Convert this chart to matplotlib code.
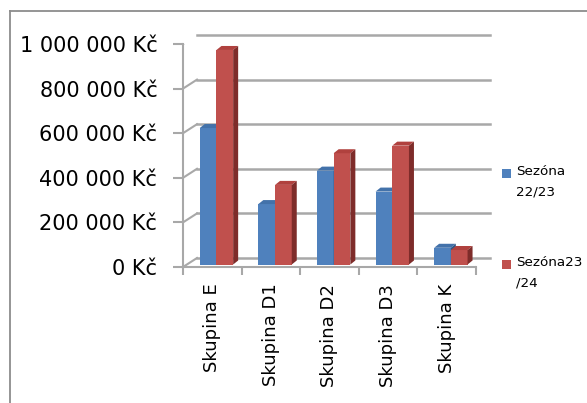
import matplotlib
matplotlib.use('Agg')
import matplotlib.pyplot as plt
from matplotlib.patches import Polygon, Rectangle
from matplotlib.lines import Line2D
from matplotlib.transforms import offset_copy, IdentityTransform
import numpy as np

categories = ['Skupina E', 'Skupina D1', 'Skupina D2', 'Skupina D3', 'Skupina K']
season_2223 = [612000, 271000, 421000, 327000, 75000]
season_2324 = [962000, 357000, 499000, 533000, 65000]
series_labels = ['Sezóna\n22/23', 'Sezóna23\n/24']
yticks = [0, 200000, 400000, 600000, 800000, 1000000]
ytick_labels = ['0 Kč', '200 000 Kč', '400 000 Kč', '600 000 Kč', '800 000 Kč', '1 000 000 Kč']

BLUE, BLUE_TOP, BLUE_SIDE = '#4F81BD', '#4372AA', '#2F5685'
RED, RED_TOP, RED_SIDE = '#C0504D', '#B0413E', '#7E2C2A'
GRID = '#A8A8A8'

W, H = 587, 403
fig = plt.figure(figsize=(W / 100, H / 100), dpi=100)
ax = fig.add_axes([183 / W, (H - 267) / H, (476 - 183) / W, (267 - 44) / H])
ax.set_xlim(-0.5, 4.5)
ax.set_ylim(0, 1e6)
ax.patch.set_visible(False)
for s in ['top', 'right']:
    ax.spines[s].set_visible(False)
for s in ['left', 'bottom']:
    ax.spines[s].set_color(GRID)
    ax.spines[s].set_linewidth(1.5)

x = np.arange(len(categories))
ax.set_yticks(yticks, ytick_labels)
ax.tick_params(axis='y', length=7, width=1.5, color=GRID, labelsize=15, pad=11.5)
ax.set_xticks(x, categories, rotation=90)
ax.tick_params(axis='x', which='major', length=0, labelsize=13, pad=12)
ax.set_xticks(np.arange(-0.5, 5, 1), minor=True)
ax.tick_params(axis='x', which='minor', length=6, width=1.5, color=GRID)

# depth of the back wall and of bars (pixels)
WD = (14, 9)
back = offset_copy(ax.transData, fig, x=WD[0], y=WD[1], units='dots')
for yv in yticks:
    ax.plot([-0.5, 4.5], [yv, yv], color=GRID, lw=1.8, transform=back, clip_on=False, zorder=1)
    p = ax.transData.transform((-0.5, yv))
    ax.add_line(Line2D([p[0], p[0] + WD[0]], [p[1], p[1] + WD[1]], color=GRID, lw=1.5,
                       transform=IdentityTransform(), zorder=1))
p = ax.transData.transform((4.5, 0))
ax.add_line(Line2D([p[0], p[0] + WD[0]], [p[1], p[1] + WD[1]], color=GRID, lw=1.5,
                   transform=IdentityTransform(), zorder=1))

bar_trans = offset_copy(ax.transData, fig, x=4, y=2.5, units='dots')
bw = 0.285
BD = (5, 4)


def draw_bars(xs, vals, front, top, side, z):
    cont = ax.bar(xs, vals, bw, color=front, transform=bar_trans, zorder=z, clip_on=False)
    for r in cont:
        x0, y0 = r.get_x(), r.get_y()
        (xl, yb), (xr, yt) = bar_trans.transform([(x0, y0), (x0 + r.get_width(), y0 + r.get_height())])
        ax.add_patch(Polygon([(xl, yt), (xr, yt), (xr + BD[0], yt + BD[1]), (xl + BD[0], yt + BD[1])],
                             closed=True, fc=top, ec='none', transform=IdentityTransform(), zorder=z + 0.1))
        ax.add_patch(Polygon([(xr, yb), (xr, yt), (xr + BD[0], yt + BD[1]), (xr + BD[0], yb + BD[1])],
                             closed=True, fc=side, ec='none', transform=IdentityTransform(), zorder=z + 0.1))
    return cont


draw_bars(x - 0.14, season_2223, BLUE, BLUE_TOP, BLUE_SIDE, 2)
draw_bars(x + 0.145, season_2324, RED, RED_TOP, RED_SIDE, 3)

# chart frame
fig.add_artist(Line2D([10 / W, 1.0], [(H - 11) / H, (H - 11) / H], color='#8C8C8C', lw=1.3))
fig.add_artist(Line2D([10 / W, 10 / W], [0, (H - 11) / H], color='#8C8C8C', lw=1.3))

# legend
for lab, col, cy in zip(series_labels, [BLUE, RED], [173.5, 264.5]):
    fig.add_artist(Rectangle((502 / W, (H - cy - 4.5) / H), 9 / W, 9 / H, fc=col, ec='none'))
    fig.text(516 / W, (H - cy + 8.5) / H, lab, fontsize=9.7, va='top', ha='left', linespacing=1.75)

fig.savefig('out.png', dpi=100)
